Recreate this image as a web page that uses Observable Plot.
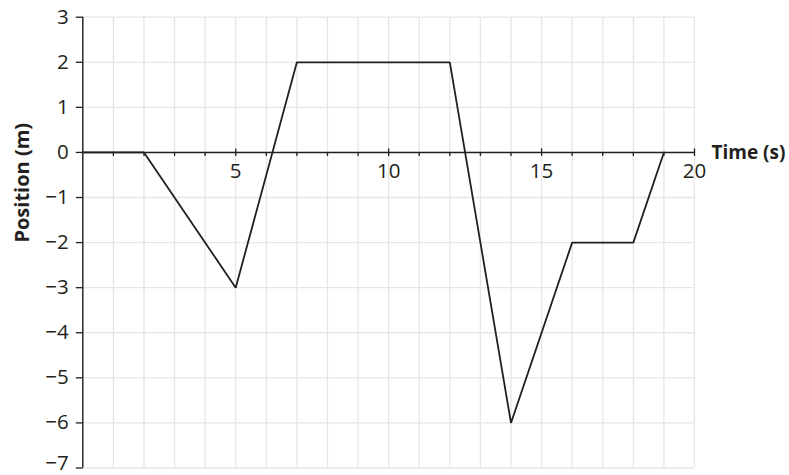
<!DOCTYPE html>
<html>
<head>
<meta charset="utf-8">
<script src="https://cdn.jsdelivr.net/npm/d3@7"></script>
<script src="https://cdn.jsdelivr.net/npm/@observablehq/plot@0.6"></script>
<style>
  body { margin: 0; background: #fff; }
  svg { display: block; }
</style>
</head>
<body>
<div id="chart"></div>
<script>
const times = [0, 2, 5, 7, 12, 14, 16, 18, 19];
const positions = [0, 0, -3, 2, 2, -6, -2, -2, 0];
const xGrid = d3.range(0, 21);
const yGrid = d3.range(-7, 4);
const xMinorTicks = d3.range(1, 20);
const xLabels = [5, 10, 15, 20];
const yLabels = [3, 2, 1, 0, -1, -2, -3, -4, -5, -6, -7];
const xTitle = "Time (s)";
const yTitle = "Position (m)";

const data = times.map((t, i) => ({t, p: positions[i]}));
const ink = "#231f20";
const font = "'Open Sans', sans-serif";
const fmt = d => d < 0 ? "\u2212" + Math.abs(d) : String(d);

const tickDown = {draw(ctx) { ctx.moveTo(0, 0); ctx.lineTo(0, 3.5); }};
const tickBoth = {draw(ctx) { ctx.moveTo(0, -4); ctx.lineTo(0, 3.5); }};
const tickLeft = {draw(ctx) { ctx.moveTo(0, 0); ctx.lineTo(-7, 0); }};

const chart = Plot.plot({
  width: 789,
  height: 475,
  marginLeft: 82.3,
  marginRight: 95,
  marginTop: 16.7,
  marginBottom: 7.5,
  x: {domain: [0, 20], axis: null},
  y: {domain: [-7, 3], axis: null},
  style: {fontFamily: font, background: "#fff"},
  marks: [
    Plot.ruleX(xGrid, {x: d => d, y1: -7, y2: 3, stroke: "#e6e6e6", strokeWidth: 1.3}),
    Plot.ruleY(yGrid, {y: d => d, x1: 0, x2: 20, stroke: "#e6e6e6", strokeWidth: 1.3}),
    Plot.ruleX([0], {y1: -7, y2: 3, stroke: ink, strokeWidth: 1.4}),
    Plot.ruleY([0], {x1: 0, x2: 20, stroke: ink, strokeWidth: 1.4}),
    Plot.dot(xMinorTicks.filter(d => !xLabels.includes(d)), {x: d => d, y: 0, symbol: tickDown, fill: "none", stroke: ink, strokeWidth: 1.3}),
    Plot.dot(xLabels, {x: d => d, y: 0, symbol: tickBoth, fill: "none", stroke: ink, strokeWidth: 1.3}),
    Plot.dot(yGrid, {x: 0, y: d => d, symbol: tickLeft, fill: "none", stroke: ink, strokeWidth: 1.3}),
    Plot.line(data, {x: "t", y: "p", stroke: ink, strokeWidth: 1.8, strokeLinejoin: "miter"}),
    Plot.text(xLabels, {x: d => d, y: 0, text: d => String(d), dy: 18.5, fontSize: 20.5, fill: ink, lineAnchor: "middle"}),
    Plot.text(yLabels.filter(d => d > -7), {x: 0, y: d => d, text: fmt, dx: -14, textAnchor: "end", fontSize: 20.5, fill: ink, lineAnchor: "middle"}),
    Plot.text(yLabels.filter(d => d === -7), {x: 0, y: d => d, text: fmt, dx: -14, dy: 2, textAnchor: "end", fontSize: 20.5, fill: ink, lineAnchor: "bottom"}),
    Plot.text([xTitle], {x: 20, y: 0, text: d => d, dx: 17, dy: 0, textAnchor: "start", fontSize: 19, fontWeight: "bold", fill: ink, lineAnchor: "middle"}),
    Plot.text([yTitle], {frameAnchor: "left", text: d => d, rotate: -90, dx: -60, fontSize: 20, fontWeight: "bold", fill: ink, lineAnchor: "middle"})
  ]
});
document.getElementById("chart").append(chart);
</script>
</body>
</html>
